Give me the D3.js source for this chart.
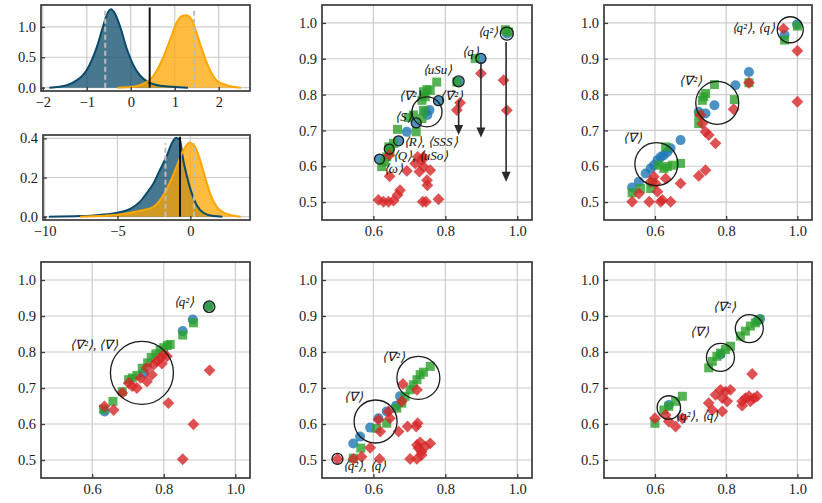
<!DOCTYPE html>
<html>
<head>
<meta charset="utf-8">
<script src="https://cdn.jsdelivr.net/npm/d3@7"></script>
<style>
body { margin: 0; background: #fff; }
text { font-family: "Liberation Serif", "Times New Roman", serif; }
</style>
</head>
<body>
<svg width="822" height="503"></svg>
<script>
// ---- density panels (top left) ----
var kdeTopBlueX = [-1.85, -1.45, -1.23, -1.11, -1.0, -0.77, -0.62, -0.55, -0.45, -0.36, -0.24, -0.09, 0.06, 0.21, 0.4, 0.67, 1.3];
var kdeTopBlueY = [0, 0.04, 0.12, 0.19, 0.29, 0.67, 1.03, 1.19, 1.29, 1.22, 1.0, 0.64, 0.37, 0.2, 0.09, 0.03, 0];
var kdeTopOrangeX = [-0.3, 0.0, 0.21, 0.52, 0.74, 0.89, 1.05, 1.16, 1.26, 1.39, 1.5, 1.65, 1.8, 1.95, 2.18, 2.5];
var kdeTopOrangeY = [0, 0.01, 0.04, 0.2, 0.5, 0.78, 1.08, 1.18, 1.19, 1.11, 0.89, 0.56, 0.29, 0.12, 0.04, 0];
var kdeTopSolid = [0.43, 1.32];
var kdeTopDashed = [-0.58, 1.44];
var kdeTopDashedTop = 1.3;
var kdeTopXTicks = [-2, -1, 0, 1, 2];
var kdeTopYTicks = [0, 0.5, 1.0];

var kdeBotBlueX = [-9.7, -7.56, -6.2, -5, -4.13, -3.45, -3, -2.53, -2.08, -1.62, -1.28, -0.98, -0.71, -0.53, -0.25, 0.09, 0.43, 0.89, 1.58, 2.2];
var kdeBotBlueY = [0, 0.003, 0.009, 0.02, 0.04, 0.077, 0.12, 0.17, 0.24, 0.31, 0.374, 0.403, 0.39, 0.306, 0.21, 0.12, 0.06, 0.02, 0.003, 0];
var kdeBotOrangeX = [-7.56, -5, -3.45, -2.53, -1.85, -1.28, -0.82, -0.48, -0.07, 0.32, 0.66, 1.0, 1.35, 1.8, 2.49, 3.45];
var kdeBotOrangeY = [0, 0.01, 0.03, 0.05, 0.11, 0.195, 0.28, 0.34, 0.378, 0.357, 0.29, 0.204, 0.119, 0.051, 0.014, 0];
var kdeBotSolid = [-0.71, 0.408];
var kdeBotDashed = [-1.71, 0.25];
var kdeBotDashedTop = 0.375;
var kdeBotXTicks = [-10, -5, 0];
var kdeBotYTicks = [0, 0.2, 0.4];

// ---- scatter panels ----
var scatterTicks = [0.5, 0.6, 0.7, 0.8, 0.9, 1.0];
var scatterXTicks = [0.6, 0.8, 1.0];

// panel B (top middle)
var blueB = [[0.617,0.620],[0.644,0.648],[0.670,0.671],[0.693,0.696],[0.719,0.721],[0.744,0.752],[0.756,0.757],[0.750,0.743],[0.781,0.783],[0.837,0.837],[0.899,0.901],[0.971,0.970]];
var greenB = [[0.623,0.599],[0.631,0.612],[0.637,0.626],[0.646,0.640],[0.643,0.654],[0.656,0.664],[0.667,0.703],[0.719,0.696],[0.697,0.736],[0.711,0.743],[0.735,0.733],[0.739,0.756],[0.735,0.784],[0.744,0.794],[0.739,0.808],[0.749,0.814],[0.758,0.812],[0.776,0.835],[0.832,0.835],[0.883,0.901],[0.967,0.981],[0.976,0.975]];
var redB = [[0.614,0.506],[0.628,0.501],[0.642,0.501],[0.656,0.504],[0.667,0.520],[0.674,0.533],[0.645,0.572],[0.644,0.631],[0.693,0.587],[0.716,0.608],[0.723,0.626],[0.735,0.617],[0.728,0.585],[0.739,0.599],[0.758,0.589],[0.749,0.561],[0.750,0.547],[0.737,0.501],[0.746,0.501],[0.781,0.508],[0.739,0.626],[0.832,0.757],[0.841,0.777],[0.899,0.859],[0.962,0.840],[0.971,0.756]];
var ringsB = [[0.617,0.620,5],[0.644,0.648,5],[0.670,0.671,5],[0.719,0.721,5],[0.781,0.783,5],[0.837,0.837,5.5],[0.899,0.901,5],[0.971,0.970,6.5],[0.749,0.752,15]];
var labelsB = [["⟨q²⟩",0.890,0.964],["⟨q⟩",0.847,0.907],["⟨uSu⟩",0.737,0.857],["⟨∇²⟩",0.670,0.784],["⟨∇̇²⟩",0.786,0.784],["⟨S⟩",0.661,0.726],["⟨R⟩, ⟨SSS⟩",0.684,0.656],["⟨Q⟩, ⟨uSo⟩",0.654,0.618],["⟨ω⟩",0.629,0.582]];
var arrowsB = [[0.837,0.784,0.687],[0.899,0.891,0.680],[0.969,0.947,0.557]];

// panel C (top right)
var blueC = [[0.536,0.541],[0.555,0.557],[0.574,0.580],[0.588,0.594],[0.597,0.603],[0.607,0.617],[0.616,0.626],[0.625,0.631],[0.635,0.640],[0.644,0.650],[0.672,0.673],[0.723,0.752],[0.742,0.747],[0.767,0.770],[0.826,0.826],[0.864,0.863],[0.964,0.966],[0.999,0.996]];
var greenC = [[0.536,0.526],[0.560,0.538],[0.588,0.538],[0.593,0.554],[0.611,0.603],[0.625,0.594],[0.635,0.599],[0.649,0.603],[0.630,0.654],[0.672,0.608],[0.723,0.743],[0.733,0.784],[0.737,0.794],[0.742,0.803],[0.723,0.719],[0.767,0.828],[0.823,0.786],[0.864,0.833],[0.964,0.952],[1.000,0.991]];
var redC = [[0.536,0.501],[0.555,0.524],[0.584,0.501],[0.607,0.529],[0.588,0.557],[0.597,0.571],[0.602,0.552],[0.616,0.501],[0.621,0.506],[0.644,0.501],[0.630,0.566],[0.672,0.552],[0.723,0.573],[0.742,0.589],[0.728,0.743],[0.733,0.719],[0.742,0.696],[0.751,0.687],[0.770,0.664],[0.821,0.759],[0.864,0.833],[0.961,0.984],[1.000,0.922],[1.000,0.780]];
var ringsC = [[0.604,0.606,21.5],[0.775,0.777,21.5],[0.980,0.981,13]];
var labelsC = [["⟨∇⟩",0.509,0.668],["⟨∇²⟩",0.668,0.826],["⟨q²⟩, ⟨q⟩",0.815,0.975]];

// panel D (bottom left)
var blueD = [[0.635,0.635],[0.744,0.742],[0.853,0.858],[0.881,0.890],[0.925,0.928]];
var greenD = [[0.632,0.641],[0.658,0.663],[0.684,0.690],[0.702,0.723],[0.712,0.728],[0.725,0.735],[0.740,0.755],[0.755,0.770],[0.765,0.785],[0.778,0.795],[0.790,0.805],[0.800,0.812],[0.810,0.818],[0.818,0.821],[0.853,0.847],[0.883,0.881],[0.927,0.926]];
var redD = [[0.634,0.649],[0.660,0.639],[0.684,0.686],[0.702,0.714],[0.712,0.705],[0.725,0.700],[0.735,0.728],[0.753,0.718],[0.767,0.737],[0.772,0.765],[0.781,0.774],[0.790,0.783],[0.800,0.793],[0.809,0.788],[0.753,0.756],[0.795,0.768],[0.813,0.658],[0.928,0.749],[0.883,0.599],[0.853,0.502]];
var ringsD = [[0.739,0.742,31.5],[0.927,0.926,5.7]];
var labelsD = [["⟨∇²⟩, ⟨∇⟩",0.538,0.807],["⟨q²⟩",0.828,0.928]];

// panel E (bottom middle)
var blueE = [[0.544,0.546],[0.563,0.565],[0.591,0.590],[0.614,0.616],[0.637,0.635],[0.663,0.651],[0.674,0.677]];
var greenE = [[0.544,0.505],[0.565,0.533],[0.609,0.588],[0.637,0.602],[0.665,0.644],[0.679,0.658],[0.688,0.677],[0.702,0.695],[0.711,0.709],[0.721,0.723],[0.730,0.737],[0.739,0.744],[0.758,0.760]];
var redE = [[0.500,0.503],[0.544,0.503],[0.567,0.509],[0.591,0.534],[0.614,0.612],[0.619,0.579],[0.617,0.503],[0.642,0.635],[0.646,0.616],[0.670,0.579],[0.679,0.663],[0.682,0.711],[0.721,0.695],[0.695,0.593],[0.719,0.593],[0.723,0.602],[0.702,0.503],[0.721,0.503],[0.725,0.533],[0.734,0.523],[0.721,0.542],[0.730,0.549],[0.744,0.537],[0.758,0.546],[0.734,0.514]];
var ringsE = [[0.606,0.607,21.5],[0.725,0.728,21.5],[0.500,0.503,5.5]];
var labelsE = [["⟨∇⟩",0.519,0.663],["⟨∇²⟩",0.624,0.774],["⟨q²⟩, ⟨q⟩",0.515,0.472]];

// panel F (bottom right)
var blueF = [[0.639,0.653],[0.784,0.793],[0.887,0.886],[0.895,0.892]];
var greenF = [[0.600,0.602],[0.625,0.639],[0.639,0.649],[0.658,0.663],[0.677,0.677],[0.751,0.756],[0.761,0.774],[0.774,0.788],[0.784,0.797],[0.798,0.807],[0.812,0.816],[0.840,0.844],[0.854,0.858],[0.868,0.872],[0.882,0.881],[0.892,0.890]];
var redF = [[0.600,0.616],[0.630,0.625],[0.639,0.607],[0.658,0.593],[0.677,0.616],[0.751,0.658],[0.761,0.639],[0.770,0.681],[0.784,0.695],[0.789,0.672],[0.798,0.690],[0.812,0.695],[0.803,0.663],[0.789,0.635],[0.845,0.663],[0.854,0.672],[0.864,0.677],[0.878,0.672],[0.887,0.677],[0.873,0.739],[0.845,0.651],[0.868,0.663]];
var ringsF = [[0.639,0.646,11.7],[0.784,0.785,14],[0.865,0.865,14]];
var labelsF = [["⟨∇²⟩",0.763,0.915],["⟨∇⟩",0.698,0.844],["⟨q²⟩, ⟨q⟩",0.656,0.612]];

var svg = d3.select("svg");
var cols = [[41, 250], [322, 532], [604, 812]],
    rows = [[5, 220], [262, 478]];

var frameColor = "#3a3a3a", gridColor = "#cccccc";
var serif = "'Liberation Serif', 'Times New Roman', serif";

function grid(g, x, y, xt, yt) {
    g.append("g").selectAll("line").data(xt).enter().append("line")
        .attr("x1", function (d) { return x(d); }).attr("x2", function (d) { return x(d); })
        .attr("y1", y.range()[0]).attr("y2", y.range()[1])
        .attr("stroke", gridColor).attr("stroke-width", 1.2);
    g.append("g").selectAll("line").data(yt).enter().append("line")
        .attr("y1", function (d) { return y(d); }).attr("y2", function (d) { return y(d); })
        .attr("x1", x.range()[0]).attr("x2", x.range()[1])
        .attr("stroke", gridColor).attr("stroke-width", 1.2);
}

function axes(g, x, y, xt, yt, fmtX, fmtY) {
    var ax = g.append("g")
        .attr("transform", "translate(0," + y.range()[0] + ")")
        .call(d3.axisBottom(x).tickValues(xt).tickSize(-4).tickPadding(6).tickFormat(fmtX));
    var ay = g.append("g")
        .attr("transform", "translate(" + x.range()[0] + ",0)")
        .call(d3.axisLeft(y).tickValues(yt).tickSize(-4).tickPadding(5).tickFormat(fmtY));
    [ax, ay].forEach(function (a) {
        a.attr("font-family", null).attr("font-size", null);
        a.select(".domain").remove();
        a.selectAll("line").attr("stroke", frameColor).attr("stroke-width", 1.3);
        a.selectAll("text").attr("fill", "#1a1a1a")
            .style("font-family", serif).style("font-size", "14.5px");
    });
    g.append("rect")
        .attr("x", x.range()[0]).attr("y", y.range()[1])
        .attr("width", x.range()[1] - x.range()[0])
        .attr("height", y.range()[0] - y.range()[1])
        .attr("fill", "none").attr("stroke", frameColor).attr("stroke-width", 1.7);
}

function minus(f) {
    return function (d) { return f(d).replace("-", "\u2212"); };
}

function kde(box, xdom, ydom, blueX, blueY, orX, orY, solid, dashed, dashedTop, xt, yt, fmtY) {
    var g = svg.append("g");
    var x = d3.scaleLinear().domain(xdom).range([box[0], box[1]]),
        y = d3.scaleLinear().domain(ydom).range([box[3], box[2]]);
    grid(g, x, y, xt, yt);
    var area = d3.area().curve(d3.curveMonotoneX)
        .x(function (d) { return x(d[0]); }).y0(y(0)).y1(function (d) { return y(d[1]); });
    var line = d3.line().curve(d3.curveMonotoneX)
        .x(function (d) { return x(d[0]); }).y(function (d) { return y(d[1]); });
    var b = d3.zip(blueX, blueY), o = d3.zip(orX, orY);
    g.append("path").attr("d", area(b)).attr("fill", "#0b4a6b").attr("fill-opacity", 0.75);
    g.append("path").attr("d", area(o)).attr("fill", "#ffa600").attr("fill-opacity", 0.75);
    g.append("path").attr("d", line(b)).attr("fill", "none").attr("stroke", "#0b4a6b").attr("stroke-width", 2);
    g.append("path").attr("d", line(o)).attr("fill", "none").attr("stroke", "#ffa600").attr("stroke-width", 2);
    g.selectAll("line.dash").data(dashed).enter().append("line")
        .attr("x1", function (d) { return x(d); }).attr("x2", function (d) { return x(d); })
        .attr("y1", y(0)).attr("y2", y(dashedTop))
        .attr("stroke", "#bdbdbd").attr("stroke-width", 2).attr("stroke-dasharray", "5,3");
    g.append("line")
        .attr("x1", x(solid[0])).attr("x2", x(solid[0]))
        .attr("y1", y(0)).attr("y2", y(solid[1]))
        .attr("stroke", "#111").attr("stroke-width", 2);
    axes(g, x, y, xt, yt, minus(d3.format("d")), fmtY);
}

kde([41, 250, 5, 91], [-2.04, 2.71], [-0.055, 1.36],
    kdeTopBlueX, kdeTopBlueY, kdeTopOrangeX, kdeTopOrangeY,
    kdeTopSolid, kdeTopDashed, kdeTopDashedTop, kdeTopXTicks, kdeTopYTicks, d3.format(".1f"));
kde([43, 250, 135, 220], [-10.11, 4.09], [-0.017, 0.417],
    kdeBotBlueX, kdeBotBlueY, kdeBotOrangeX, kdeBotOrangeY,
    kdeBotSolid, kdeBotDashed, kdeBotDashedTop, kdeBotXTicks, kdeBotYTicks, d3.format(".1f"));

var square = d3.symbol().type(d3.symbolSquare).size(81)(),
    diamond = d3.symbol().type(d3.symbolSquare).size(70)();

function scatter(col, row, blue, green, red, rings, labels, arrows) {
    var g = svg.append("g");
    var x = d3.scaleLinear().domain([0.457, 1.041]).range(cols[col]),
        y = d3.scaleLinear().domain([0.45, 1.05]).range([rows[row][1], rows[row][0]]);
    grid(g, x, y, scatterXTicks, scatterTicks);

    g.append("g").selectAll("circle").data(blue).enter().append("circle")
        .attr("cx", function (d) { return x(d[0]); })
        .attr("cy", function (d) { return y(d[1]); })
        .attr("r", 5).attr("fill", "#1f77b4").attr("fill-opacity", 0.8);
    g.append("g").selectAll("path").data(green).enter().append("path")
        .attr("d", square)
        .attr("transform", function (d) { return "translate(" + x(d[0]) + "," + y(d[1]) + ")"; })
        .attr("fill", "#2ca02c").attr("fill-opacity", 0.8);
    g.append("g").selectAll("path").data(red).enter().append("path")
        .attr("d", diamond)
        .attr("transform", function (d) { return "translate(" + x(d[0]) + "," + y(d[1]) + ") rotate(45)"; })
        .attr("fill", "#d62728").attr("fill-opacity", 0.8);

    g.append("g").selectAll("circle").data(rings).enter().append("circle")
        .attr("cx", function (d) { return x(d[0]); })
        .attr("cy", function (d) { return y(d[1]); })
        .attr("r", function (d) { return d[2]; })
        .attr("fill", "none").attr("stroke", "#1a1a1a").attr("stroke-width", 1.3);

    (arrows || []).forEach(function (a) {
        var tip = y(a[2]);
        g.append("line")
            .attr("x1", x(a[0])).attr("x2", x(a[0]))
            .attr("y1", y(a[1])).attr("y2", tip - 8)
            .attr("stroke", "#2a2a2a").attr("stroke-width", 1.6);
        g.append("path")
            .attr("d", "M" + (x(a[0]) - 4.5) + "," + (tip - 10) + "L" + (x(a[0]) + 4.5) + "," + (tip - 10) + "L" + x(a[0]) + "," + tip + "Z")
            .attr("fill", "#2a2a2a");
    });

    g.append("g").selectAll("text").data(labels).enter().append("text")
        .attr("x", function (d) { return x(d[1]); })
        .attr("y", function (d) { return y(d[2]); })
        .style("font-family", serif).style("font-size", "13px")
        .attr("font-style", "italic").attr("fill", "#111")
        .text(function (d) { return d[0]; });

    axes(g, x, y, scatterXTicks, scatterTicks, d3.format(".1f"), d3.format(".1f"));
}

scatter(1, 0, blueB, greenB, redB, ringsB, labelsB, arrowsB);
scatter(2, 0, blueC, greenC, redC, ringsC, labelsC);
scatter(0, 1, blueD, greenD, redD, ringsD, labelsD);
scatter(1, 1, blueE, greenE, redE, ringsE, labelsE);
scatter(2, 1, blueF, greenF, redF, ringsF, labelsF);
</script>
</body>
</html>
